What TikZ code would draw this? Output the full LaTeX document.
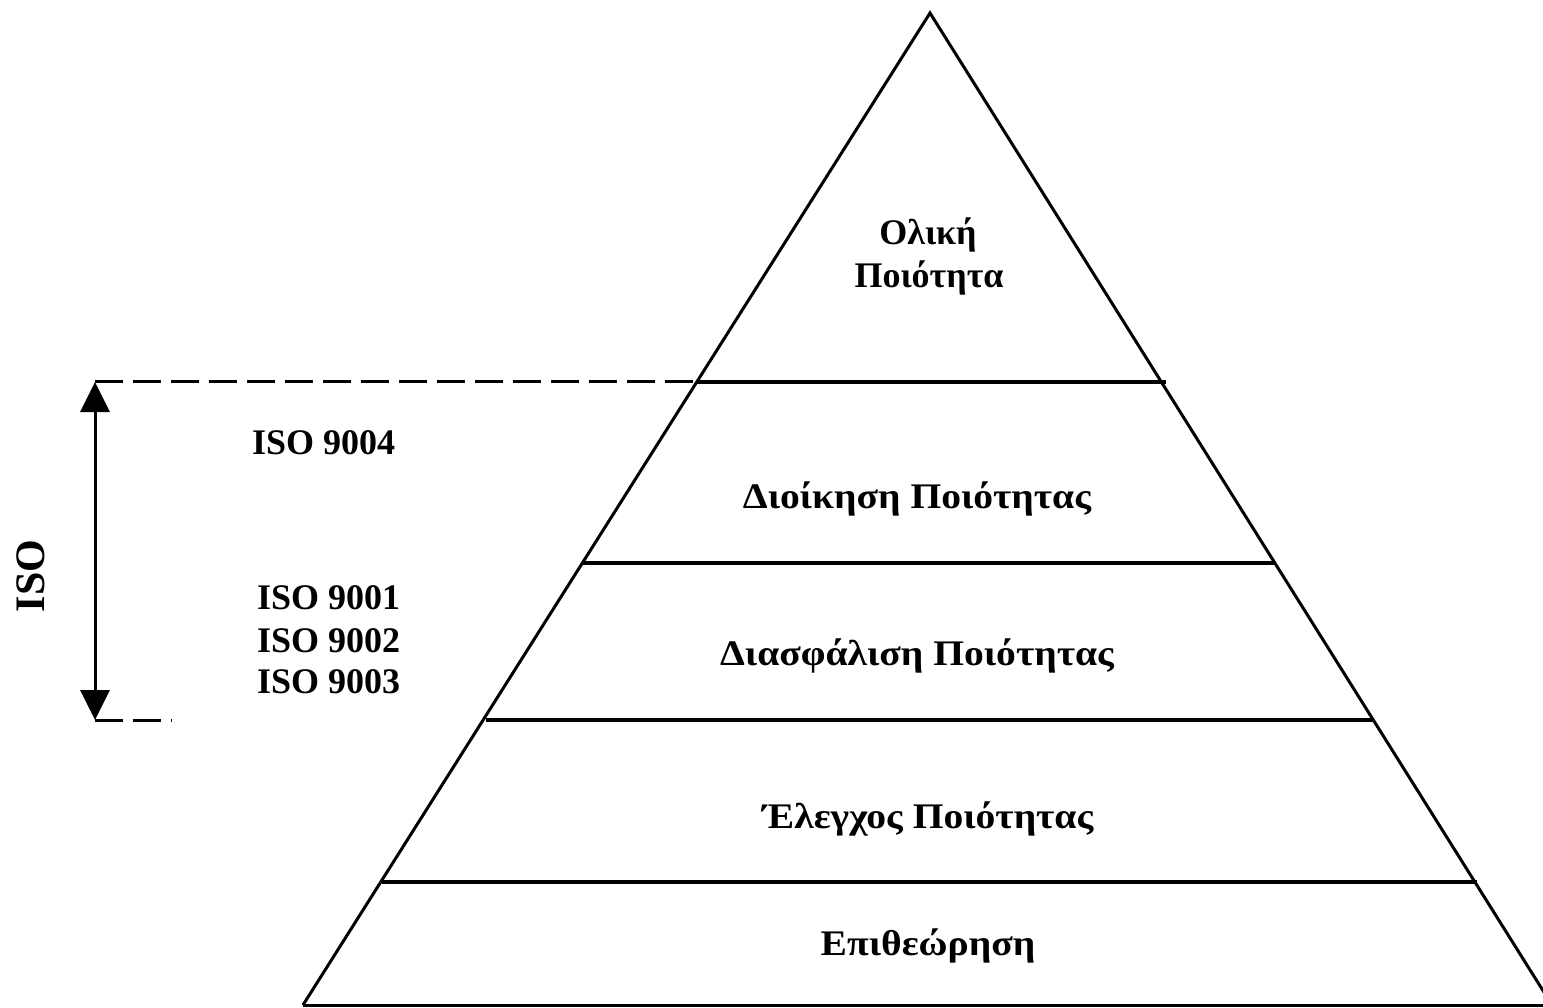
\documentclass[tikz,border=0pt]{standalone}
\usepackage{fontspec}
\setmainfont{Liberation Serif}
\newfontfamily\grkwide[FakeStretch=1.1]{Liberation Serif}
\usetikzlibrary{arrows.meta}
\begin{document}
\begin{tikzpicture}[x=1pt,y=-1pt,
  side/.style={line width=3pt,line join=miter},
  level/.style={line width=4pt},
  guide/.style={line width=3pt,dash pattern=on 28pt off 10pt},
  lbl/.style={font=\grkwide\bfseries\fontsize{36}{42}\selectfont,anchor=base,inner sep=0pt},
  toplbl/.style={font=\bfseries\fontsize{36}{42}\selectfont,anchor=base,inner sep=0pt},
  isolbl/.style={font=\bfseries\fontsize{36}{42}\selectfont,anchor=base west,inner sep=0pt}]
\useasboundingbox (0,0) rectangle (1543,1008);
\begin{scope}
\clip (0,0) rectangle (1543,1008);
% pyramid
\coordinate (apex) at (930,13);
\coordinate (bl) at (303,1005);
\coordinate (br) at (1552,1005);
\draw[side] (bl) -- (apex) -- (br);
\draw[side] (bl) -- (br);
% levels
\draw[level] (697,382) -- (1166,382);
\draw[level] (583,563) -- (1276,563);
\draw[level] (486,720) -- (1374,720);
\draw[level] (382,882) -- (1477,882);
\end{scope}
% ISO guides
\coordinate (isoTop) at (95,382);
\coordinate (isoBot) at (95,720);
\coordinate (topEnd) at (697,382);
\coordinate (botEnd) at (172,720);
\draw[guide] (isoTop) -- (topEnd);
\draw[guide] (isoBot) -- (botEnd);
\draw[line width=3pt,{Triangle[length=30pt,width=29pt]}-{Triangle[length=30pt,width=29pt]}] (isoTop) -- (isoBot);
\node[font=\bfseries\fontsize{42}{48}\selectfont,rotate=90,inner sep=0pt] (iso) at (31,576) {ISO};
% labels
\node[toplbl] (l1a) at (928,245) {Ολική};
\node[toplbl] (l1b) at (929,288) {Ποιότητα};
\node[lbl] (l2) at (917,508) {Διοίκηση Ποιότητας};
\node[lbl] (l3) at (917,665) {Διασφάλιση Ποιότητας};
\node[lbl] (l4) at (928,828) {Έλεγχος Ποιότητας};
\node[lbl] (l5) at (928,955) {Επιθεώρηση};
\node[isolbl] (i4) at (252,454) {ISO 9004};
\node[isolbl] (i1) at (257,609) {ISO 9001};
\node[isolbl] (i2) at (257,652) {ISO 9002};
\node[isolbl] (i3) at (257,693) {ISO 9003};
\end{tikzpicture}
\end{document}
